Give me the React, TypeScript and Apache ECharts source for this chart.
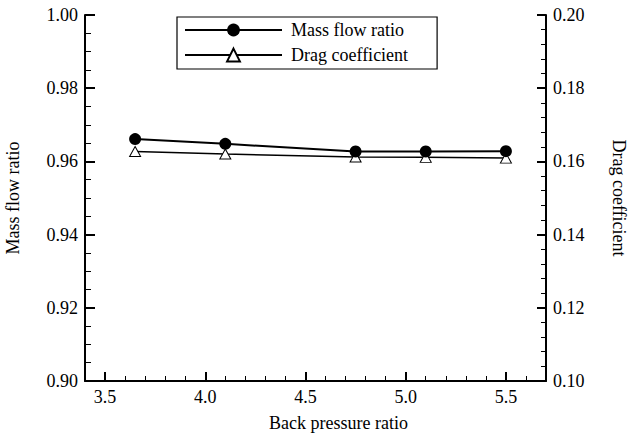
import React, { useEffect, useRef } from "react";
import * as echarts from "echarts";

// Back pressure ratio sweep
const backPressure = [3.65, 4.1, 4.75, 5.1, 5.5];
const massFlowRatio = [0.9661, 0.9648, 0.9627, 0.9627, 0.9628];
const dragCoefficient = [0.1627, 0.162, 0.1612, 0.1611, 0.1609];

const FONT = "'Liberation Serif', serif";
const FS = 18;

export default function App() {
  const ref = useRef<HTMLDivElement>(null);

  useEffect(() => {
    if (!ref.current) return;
    const chart = echarts.init(ref.current, undefined, { renderer: "svg" });
    const axisLine = { show: true, lineStyle: { color: "#000", width: 2 } };
    const labelStyle = { color: "#000", fontFamily: FONT, fontSize: FS };

    chart.setOption({
      animation: false,
      backgroundColor: "#fff",
      grid: { left: 85, right: 83, top: 15, bottom: 53, containLabel: false, outerBoundsMode: "none" },
      legend: {
        orient: "vertical",
        left: 177,
        top: 17,
        padding: [4, 29, 5, 7],
        itemGap: 7,
        itemWidth: 97,
        itemHeight: 16,
        borderColor: "#000",
        borderWidth: 1.2,
        textStyle: { ...labelStyle, padding: [0, 0, 0, 4] },
        data: ["Mass flow ratio", "Drag coefficient"],
      },
      xAxis: {
        type: "value",
        min: 3.4,
        max: 5.7,
        splitNumber: 5,
        name: "Back pressure ratio",
        nameLocation: "middle",
        nameGap: 33,
        nameTextStyle: { ...labelStyle, padding: [0, 0, 0, 46] },
        axisLine,
        axisTick: { show: true, inside: true, length: 9, lineStyle: { color: "#000", width: 2 } },
        minorTick: { show: true, splitNumber: 5, length: 5, lineStyle: { color: "#000", width: 1 } },
        axisLabel: {
          ...labelStyle,
          margin: 7,
          showMinLabel: false,
          showMaxLabel: false,
          formatter: (v: number) => v.toFixed(1),
        },
        splitLine: { show: false },
      },
      yAxis: [
        {
          type: "value",
          min: 0.9,
          max: 1.0,
          interval: 0.02,
          position: "left",
          name: "Mass flow ratio",
          nameLocation: "middle",
          nameGap: 63,
          nameTextStyle: labelStyle,
          axisLine,
          axisTick: { show: true, inside: true, length: 10, lineStyle: { color: "#000", width: 2 } },
          minorTick: { show: true, splitNumber: 4, length: 6, lineStyle: { color: "#000", width: 1 } },
          axisLabel: { ...labelStyle, margin: 7, formatter: (v: number) => v.toFixed(2) },
          splitLine: { show: false },
        },
        {
          type: "value",
          min: 0.1,
          max: 0.2,
          interval: 0.02,
          position: "right",
          name: "Drag coefficient",
          nameLocation: "middle",
          nameGap: 64,
          nameRotate: -90,
          nameTextStyle: labelStyle,
          axisLine,
          axisTick: { show: true, inside: true, length: 9, lineStyle: { color: "#000", width: 2 } },
          minorTick: { show: true, splitNumber: 5, length: 5, lineStyle: { color: "#000", width: 1 } },
          axisLabel: { ...labelStyle, margin: 7, formatter: (v: number) => v.toFixed(2) },
          splitLine: { show: false },
        },
      ],
      series: [
        {
          name: "Mass flow ratio",
          type: "line",
          yAxisIndex: 0,
          data: backPressure.map((x, i) => [x, massFlowRatio[i]]),
          symbol: "circle",
          symbolSize: 12,
          showAllSymbol: true,
          itemStyle: { color: "#000", borderColor: "#000", borderWidth: 0 },
          lineStyle: { color: "#000", width: 2 },
          z: 3,
        },
        {
          name: "Drag coefficient",
          type: "line",
          yAxisIndex: 1,
          data: backPressure.map((x, i) => [x, dragCoefficient[i]]),
          symbol: "triangle",
          symbolSize: [11, 10],
          showAllSymbol: true,
          itemStyle: { color: "#fff", borderColor: "#000", borderWidth: 1 },
          lineStyle: { color: "#000", width: 1.5 },
          z: 2,
        },
      ],
    });

    return () => chart.dispose();
  }, []);

  return <div ref={ref} style={{ width: 629, height: 434, position: "absolute", left: 0, top: 0 }} />;
}
